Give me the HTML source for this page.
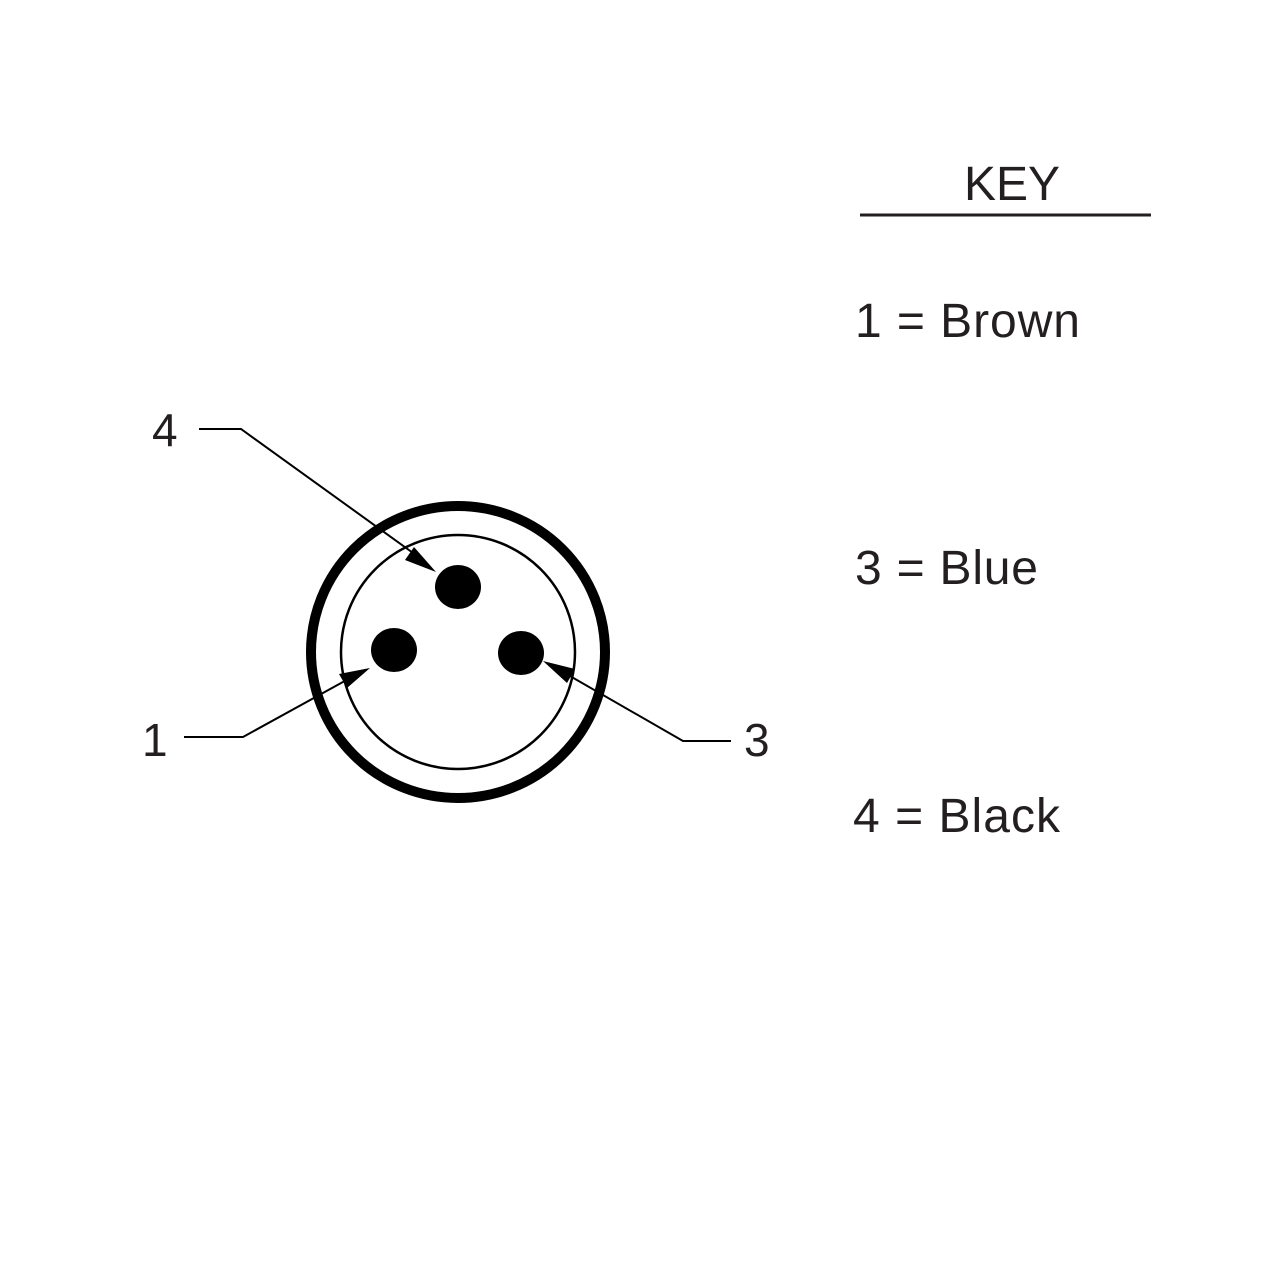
<!DOCTYPE html>
<html><head><meta charset="utf-8"><style>
html,body{margin:0;padding:0;background:#fff;}
svg{display:block;}
text{font-family:"Liberation Sans",Arial,sans-serif;fill:#231f20;}
</style></head><body>
<svg width="1280" height="1280" viewBox="0 0 1280 1280" xmlns="http://www.w3.org/2000/svg">
<rect width="1280" height="1280" fill="#fff"/>
<ellipse cx="458" cy="652" rx="147" ry="146" fill="none" stroke="#000" stroke-width="10"/>
<circle cx="458" cy="652" r="117" fill="none" stroke="#000" stroke-width="2.5"/>
<ellipse cx="458" cy="587" rx="23" ry="22" fill="#000"/>
<ellipse cx="394" cy="650" rx="23" ry="22" fill="#000"/>
<ellipse cx="521" cy="653" rx="23" ry="22" fill="#000"/>
<g stroke="#000" stroke-width="2" fill="none">
<polyline points="199,429 241,429 420,558"/>
<polyline points="184,737 243,737 352,677"/>
<polyline points="731,741 683,741 563,672"/>
</g>
<g fill="#000">
<path d="M436,572 L405,560 L414,547 z"/>
<path d="M370,668 L347,688 L339,674 z"/>
<path d="M543,661 L575,669 L567,683 z"/>
</g>
<text x="152" y="446" font-size="46">4</text>
<text x="142" y="756" font-size="46">1</text>
<text x="744" y="756" font-size="46">3</text>
<text x="1012" y="200" font-size="48" text-anchor="middle">KEY</text>
<line x1="860" y1="215" x2="1151" y2="215" stroke="#231f20" stroke-width="3"/>
<text x="855" y="337" font-size="48" textLength="225" lengthAdjust="spacing">1 = Brown</text>
<text x="855" y="584" font-size="48" textLength="183" lengthAdjust="spacing">3 = Blue</text>
<text x="853" y="832" font-size="48" textLength="207" lengthAdjust="spacing">4 = Black</text>
</svg>
</body></html>
